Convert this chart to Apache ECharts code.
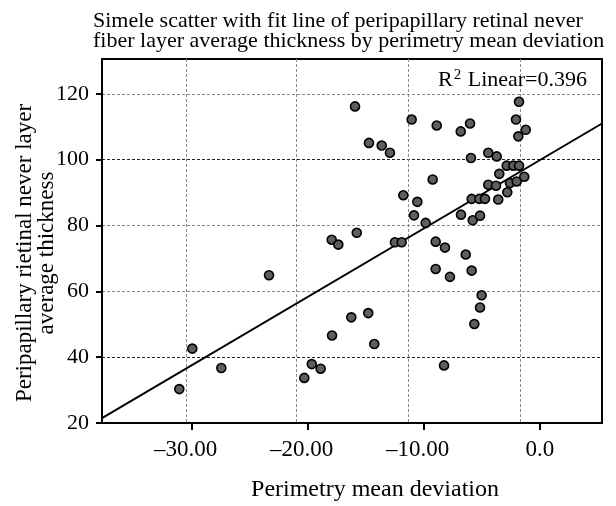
<!DOCTYPE html>
<html>
<head>
<meta charset="utf-8">
<script src="https://cdn.jsdelivr.net/npm/echarts@6/dist/echarts.min.js"></script>
<style>
html,body{margin:0;padding:0;background:#fff;}
#chart{width:616px;height:506px;}
</style>
</head>
<body>
<div id="chart"></div>
<script>
// Perimetry mean deviation (x) and RNFL average thickness (y)
const mdValues = [
  -15.92, -11.04, -8.88, -6.81, -6.01, -1.79, -2.05, -1.21, -1.85, -14.72,
  -13.62, -12.91, -5.93, -4.44, -3.71, -2.85, -2.28, -1.79, -3.49, -9.23,
  -4.44, -3.77, -2.57, -1.99, -1.34, -2.80, -11.76, -10.55, -5.87, -5.21,
  -4.72, -3.58, -10.84, -6.79, -5.78, -5.15, -9.83, -15.77, -17.93, -17.36,
  -12.48, -11.90, -8.97, -8.17, -6.38, -8.97, -7.74, -5.87, -5.01, -5.15,
  -5.64, -16.24, -14.78, -14.26, -8.25, -23.33, -29.94, -31.06, -27.44, -17.90,
  -19.65, -18.88, -20.29
];
const rnflValues = [
  116.2, 112.2, 110.4, 108.6, 111.0, 117.6, 112.2, 109.1, 107.1, 105.1,
  104.3, 102.1, 100.5, 102.1, 101.0, 98.2, 98.2, 98.2, 95.7, 94.0,
  92.4, 92.1, 92.9, 93.4, 94.8, 90.1, 89.2, 87.2, 88.1, 88.1,
  88.1, 87.9, 83.1, 83.3, 81.6, 83.0, 80.8, 77.8, 75.7, 74.2,
  74.9, 74.9, 75.1, 73.3, 71.2, 66.8, 64.4, 66.3, 58.8, 55.1,
  50.1, 52.1, 53.4, 44.0, 37.5, 64.9, 42.6, 30.3, 36.7, 46.6,
  37.9, 36.5, 33.7
];
// Fit line endpoints
const fitX = [-37.72, 5.36];
const fitY = [21.5, 111.0];
const r2Label = 'Linear=0.396';

// Axis ticks and labels
const xTicks = [-30, -20, -10, 0];
const xTickLabels = ['\u201330.00', '\u201320.00', '\u201310.00', '0.0'];
const xGridValues = [-30.46, -21.0, -11.37, -1.72];
const yTicks = [20, 40, 60, 80, 100, 120];
const yTickLabels = ['20', '40', '60', '80', '100', '120'];
const yDarkGrid = [40, 100];

const titleText = 'Simele scatter with fit line of peripapillary retinal never\nfiber layer average thickness by perimetry mean deviation';
const xName = 'Perimetry mean deviation';
const yName = 'Peripapillary rietinal never layer\naverage thickness';

const FONT = 'Liberation Serif';
const X_MIN = -37.72, X_MAX = 5.36, Y_MIN = 20, Y_MAX = 130.6;

const points = mdValues.map((x, i) => [x, rnflValues[i]]);
const fitData = fitX.map((x, i) => [x, fitY[i]]);

const chart = echarts.init(document.getElementById('chart'), null, {renderer: 'canvas'});
chart.setOption({
  animation: false,
  backgroundColor: '#fff',
  title: [
    {
      text: titleText,
      left: 88, top: 6,
      textStyle: {fontFamily: FONT, fontSize: 22, fontWeight: 'normal', color: '#000', lineHeight: 20}
    },
    {
      text: '{r|R}{s|2}{r| ' + r2Label + '}',
      right: 24, top: 63,
      textStyle: {
        fontWeight: 'normal',
        rich: {
          r: {fontFamily: FONT, fontSize: 22, fontWeight: 'normal', color: '#000'},
          s: {fontFamily: FONT, fontSize: 15, fontWeight: 'normal', color: '#000', padding: [0, 1, 10, 1]}
        }
      }
    }
  ],
  grid: {
    left: 102, top: 59, right: 14, bottom: 83,
    outerBoundsMode: 'none', containLabel: false,
    show: true, borderColor: '#000', borderWidth: 2, backgroundColor: 'transparent'
  },
  xAxis: [
    {
      type: 'value', min: X_MIN, max: X_MAX,
      position: 'bottom',
      name: xName, nameLocation: 'middle', nameGap: 55, nameMoveOverlap: false,
      nameTextStyle: {fontFamily: FONT, fontSize: 24, color: '#000', padding: [0, 0, 0, 46]},
      axisLine: {show: true, onZero: false, lineStyle: {color: '#000', width: 2}},
      axisTick: {show: true, length: 7, lineStyle: {color: '#000', width: 2}, customValues: xTicks},
      axisLabel: {
        customValues: xTicks, margin: 15,
        fontFamily: FONT, fontSize: 23, color: '#000',
        formatter: v => {
          const k = xTicks.indexOf(v);
          if (k < 0) return '';
          return v < 0 ? '{n|' + xTickLabels[k] + '}' : '{z|' + xTickLabels[k] + '}';
        },
        rich: {
          n: {fontFamily: FONT, fontSize: 23, color: '#000', padding: [0, 12, 0, 0]},
          z: {fontFamily: FONT, fontSize: 23, color: '#000'}
        }
      },
      splitLine: {show: false}
    },
    {
      type: 'value', min: X_MIN, max: X_MAX,
      position: 'top',
      axisLine: {show: false},
      axisTick: {show: false, customValues: xGridValues},
      axisLabel: {show: false, customValues: xGridValues},
      splitLine: {show: true, lineStyle: {color: '#8a8a8a', width: 1, type: [3, 2]}}
    }
  ],
  yAxis: [
    {
      type: 'value', min: Y_MIN, max: Y_MAX,
      position: 'left',
      name: yName, nameLocation: 'middle', nameGap: 44, nameMoveOverlap: false,
      nameTextStyle: {fontFamily: FONT, fontSize: 23, color: '#000', lineHeight: 22, align: 'center', padding: [0, 24, 0, 0]},
      axisLine: {show: true, onZero: false, lineStyle: {color: '#000', width: 2}},
      axisTick: {show: true, length: 6, lineStyle: {color: '#000', width: 2}, customValues: yTicks},
      axisLabel: {
        customValues: yTicks, margin: 13,
        fontFamily: FONT, fontSize: 22, color: '#000',
        formatter: v => { const k = yTicks.indexOf(v); return k >= 0 ? yTickLabels[k] : ''; }
      },
      splitLine: {show: true, lineStyle: {color: '#8a8a8a', width: 1, type: [3, 2]}}
    },
    {
      type: 'value', min: Y_MIN, max: Y_MAX,
      position: 'right',
      axisLine: {show: false},
      axisTick: {show: false, customValues: yDarkGrid},
      axisLabel: {show: false, customValues: yDarkGrid},
      splitLine: {show: true, lineStyle: {color: '#222', width: 1, type: [3, 2]}}
    }
  ],
  series: [
    {
      type: 'line', data: fitData, xAxisIndex: 0, yAxisIndex: 0,
      symbol: 'none', clip: true, silent: true,
      lineStyle: {color: '#000', width: 2}, z: 3
    },
    {
      type: 'scatter', data: points, xAxisIndex: 0, yAxisIndex: 0,
      symbol: 'circle', symbolSize: 9,
      itemStyle: {color: '#5e5e5e', borderColor: '#000', borderWidth: 1.6, opacity: 1},
      z: 4
    }
  ]
});
</script>
</body>
</html>
